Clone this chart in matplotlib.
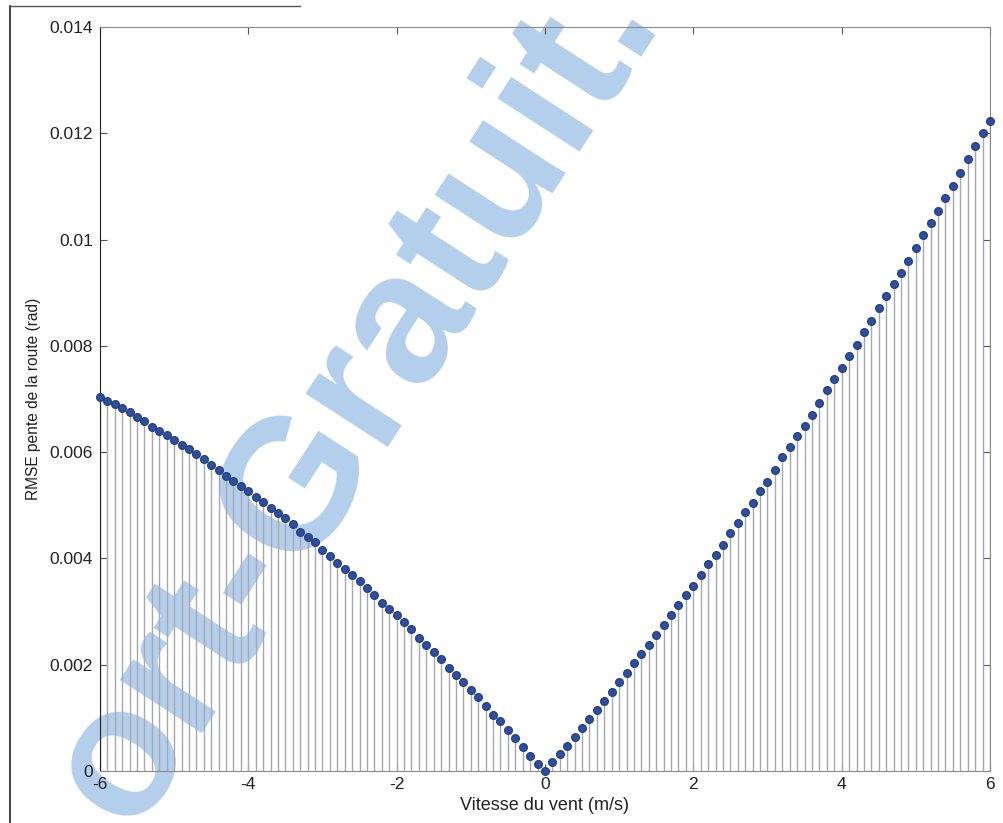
import numpy as np
import matplotlib
matplotlib.use("Agg")
import matplotlib.pyplot as plt
from matplotlib.lines import Line2D

plt.rcParams['font.family'] = ['Liberation Sans', 'DejaVu Sans']

# wind speed from -6 to 6 m/s, 0.1 m/s step
wind_speed = np.linspace(-6, 6, 121)

# RMSE of road slope, in 1e-3 rad
rmse_mrad = [
    7.03, 6.96, 6.91, 6.83, 6.75, 6.67, 6.59, 6.48, 6.40, 6.32,
    6.23, 6.13, 6.05, 5.97, 5.87, 5.75, 5.67, 5.56, 5.46, 5.36,
    5.26, 5.16, 5.06, 4.95, 4.86, 4.76, 4.65, 4.50, 4.40, 4.30,
    4.16, 4.05, 3.92, 3.81, 3.68, 3.57, 3.44, 3.31, 3.17, 3.04,
    2.93, 2.80, 2.67, 2.50, 2.38, 2.24, 2.10, 1.94, 1.81, 1.67,
    1.52, 1.39, 1.22, 1.06, 0.94, 0.77, 0.62, 0.45, 0.29, 0.14,
    0.00,
    0.16, 0.32, 0.47, 0.64, 0.80, 0.98, 1.14, 1.32, 1.49, 1.67,
    1.84, 2.03, 2.21, 2.37, 2.56, 2.74, 2.93, 3.12, 3.31, 3.49,
    3.68, 3.89, 4.07, 4.25, 4.47, 4.66, 4.87, 5.05, 5.26, 5.44,
    5.67, 5.90, 6.09, 6.30, 6.49, 6.70, 6.92, 7.16, 7.38, 7.59,
    7.80, 8.02, 8.26, 8.47, 8.71, 8.93, 9.16, 9.37, 9.60, 9.84,
    10.08, 10.32, 10.53, 10.78, 11.01, 11.26, 11.52, 11.76, 12.00, 12.24,
]
rmse = np.array(rmse_mrad) * 1e-3

x_ticks = [-6, -4, -2, 0, 2, 4, 6]
y_ticks = [0, 0.002, 0.004, 0.006, 0.008, 0.010, 0.012, 0.014]
y_tick_labels = ['0', '0.002', '0.004', '0.006', '0.008', '0.01', '0.012', '0.014']

fig = plt.figure(figsize=(10.04, 8.23), dpi=100)
ax = fig.add_axes([100 / 1004, 1 - 771 / 823, 890 / 1004, 744 / 823])

# watermark of the scanned page (sits behind the plot)
fig.text(0.354, 0.516, 'ort-Gratuit.', rotation=57, fontsize=134, fontweight='bold',
         color='#b4cfeb', ha='center', va='center', zorder=-1)

markers, stems, base = ax.stem(wind_speed, rmse, basefmt=' ')
plt.setp(stems, color='#a8a8b0', linewidth=1.0)
plt.setp(markers, color='#2f4f9c', markersize=5.5, markeredgecolor='#25418a',
         clip_on=False, zorder=4)

ax.set_xlim(-6, 6)
ax.set_ylim(0, 0.014)
ax.set_xticks(x_ticks)
ax.set_xticklabels([str(t) for t in x_ticks])
ax.set_yticks(y_ticks)
ax.set_yticklabels(y_tick_labels)
ax.tick_params(direction='in', length=5, width=0.8, colors='#555555',
               labelcolor='#222222', labelsize=12.5, top=True, right=True)
ax.tick_params(axis='x', pad=4)
ax.tick_params(axis='y', pad=5)
ax.set_xlabel('Vitesse du vent (m/s)', fontsize=13, color='#222222', labelpad=4)
ax.set_ylabel('RMSE pente de la route (rad)', fontsize=11.2, color='#222222', labelpad=6)

ax.patch.set_alpha(0)
for side in ['top', 'right', 'bottom']:
    ax.spines[side].set_color('#8a8a8a')
ax.spines['left'].set_color('#222222')

# scan border lines
fig.add_artist(Line2D([10 / 1004, 10 / 1004], [0, 1 - 6 / 823], color='#222222', linewidth=1.2))
fig.add_artist(Line2D([10 / 1004, 300 / 1004], [1 - 6 / 823, 1 - 6 / 823], color='#555555', linewidth=1.0))

fig.savefig('out.png', dpi=100)
